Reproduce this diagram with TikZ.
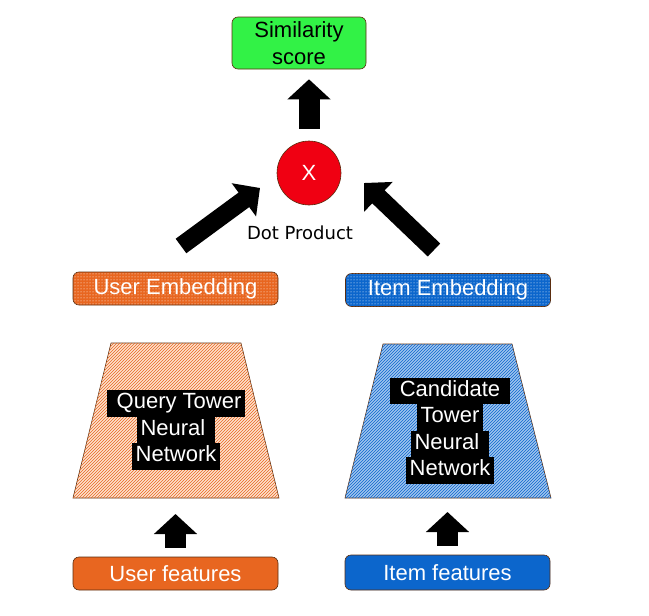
\documentclass[tikz,border=0pt]{standalone}
\usepackage{fontspec}
\setmainfont{Liberation Sans}
\newfontfamily\dotfont{DejaVu Sans}
\usetikzlibrary{arrows.meta,patterns}

\definecolor{scoregreen}{RGB}{50,242,70}
\definecolor{userorange}{RGB}{232,102,32}
\definecolor{itemblue}{RGB}{12,102,204}
\definecolor{dotred}{RGB}{240,0,18}
\definecolor{edgebrown}{RGB}{90,45,15}
\definecolor{userpeach}{RGB}{253,226,206}
\definecolor{itemlight}{RGB}{160,196,238}

\newcommand{\blk}[1]{{\setlength{\fboxsep}{0pt}\colorbox{black}{\strut\,#1\,}}}

\tikzset{
  box/.style={draw=edgebrown,line width=0.6pt,rounded corners=6pt,
    text=white,font=\fontsize{22}{26}\selectfont,inner sep=0pt},
  embbox/.style={box,minimum width=205pt,minimum height=33pt},
  tower/.style={draw=edgebrown,line width=0.6pt},
  towertext/.style={align=center,text=white,font=\fontsize{22}{26.5}\selectfont},
  bigarrow/.style={line width=21pt,-{Triangle[width=42pt,length=20pt]}},
  diagarrow/.style={line width=18pt,-{Triangle[width=40pt,length=20pt]}}
}

\begin{document}
\begin{tikzpicture}[x=1pt,y=-1pt]
\useasboundingbox (0,0) rectangle (649,616);

\node[box,fill=scoregreen,text=black,align=center,minimum width=134pt,minimum height=52pt,
  font=\fontsize{22}{27}\selectfont] (score) at (299,43) {Similarity\\score};
\node[circle,draw=edgebrown,line width=0.6pt,fill=dotred,text=white,minimum size=64pt,
  font=\fontsize{22}{26}\selectfont] (dot) at (309,173) {X};
\node[font=\dotfont\fontsize{18}{22}\selectfont] (dotlabel) at (300,233) {Dot Product};

\node[embbox,fill=userorange,postaction={pattern=dots,pattern color=white}] (uemb) at (175.5,288.5) {User Embedding};
\node[embbox,fill=itemblue,postaction={pattern=dots,pattern color=white}] (iemb) at (448,290) {Item Embedding};

% towers
\draw[tower,fill=userpeach,postaction={pattern=north east lines,pattern color=userorange}]
  (111,343) -- (241,343) -- (279,498) -- (73,498) -- cycle;
\draw[tower,fill=itemlight,postaction={pattern=north east lines,pattern color=itemblue}]
  (383,344) -- (512,344) -- (551,498) -- (345,498) -- cycle;
\coordinate (qbase) at (176,498);
\coordinate (cbase) at (448,498);
\node[towertext] (qtext) at (176,430) {\blk{\ Query Tower}\\\blk{Neural\ }\\\blk{Network}};
\node[towertext] (ctext) at (450,430.5) {\blk{\ Candidate\ }\\\blk{Tower}\\\blk{Neural\ }\\\blk{Network}};

\node[embbox,fill=userorange] (ufeat) at (175.5,573.5) {User features};
\node[embbox,fill=itemblue,minimum height=35pt] (ifeat) at (447.5,572.5) {Item features};

\coordinate (uarrow) at (181,246);
\coordinate (utip) at (260,188);
\coordinate (iarrow) at (434,250);
\coordinate (itip) at (364,183);

\draw[bigarrow,shorten <=12pt,shorten >=10pt] (dot.north) -- (dot.north |- score.south);
\draw[diagarrow] (uarrow) -- (utip);
\draw[diagarrow] (iarrow) -- (itip);
\draw[bigarrow,shorten <=9pt,shorten >=16pt] (ufeat.north) -- (ufeat.north |- qbase);
\draw[bigarrow,shorten <=9pt,shorten >=14pt] (ifeat.north) -- (ifeat.north |- cbase);
\end{tikzpicture}
\end{document}
